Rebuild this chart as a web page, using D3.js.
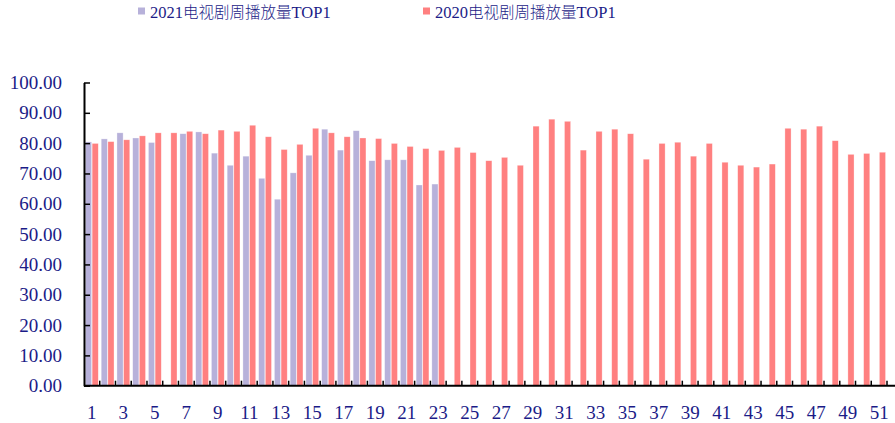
<!DOCTYPE html>
<html>
<head>
<meta charset="utf-8">
<script src="https://cdn.jsdelivr.net/npm/d3@7"></script>
<style>
  body { margin: 0; background: #fff; }
  svg { display: block; }
  .tick text { fill: #1b1b87; font-family: "Liberation Serif", "DejaVu Serif", serif; font-size: 19px; }
  .legend text { fill: #1b1b87; font-size: 16.5px; }
</style>
</head>
<body>
<svg id="chart" width="895" height="423"></svg>
<script>
'use strict';

var weeks = d3.range(1, 52);
var seriesNames = ["2021电视剧周播放量TOP1", "2020电视剧周播放量TOP1"];
var seriesColors = ["#b7b1da", "#ff8080"];

// 2021: weeks 1-23, week 6 has no value
var values2021 = [80.4, 81.4, 83.4, 81.7, 80.2, null, 83.1, 83.7, 76.7, 72.7,
  75.7, 68.4, 61.5, 70.2, 76.0, 84.6, 77.7, 84.1, 74.2, 74.5,
  74.5, 66.2, 66.5];
var values2020 = [79.9, 80.5, 81.1, 82.4, 83.4, 83.4, 83.9, 83.1, 84.3, 83.9,
  85.9, 82.1, 77.9, 79.6, 84.9, 83.4, 82.1, 81.7, 81.5, 79.9,
  78.9, 78.2, 77.6, 78.6, 76.9, 74.2, 75.3, 72.7, 85.6, 87.9,
  87.2, 77.7, 83.9, 84.6, 83.1, 74.7, 79.9, 80.3, 75.7, 79.9,
  73.7, 72.7, 72.1, 73.1, 84.9, 84.6, 85.6, 80.8, 76.3, 76.6,
  77.0];
var yTicks = d3.range(0, 101, 10);

var svg = d3.select("#chart");
var plotLeft = 84, plotRight = 887, plotTop = 82.5, plotBottom = 385.7;

var x = d3.scaleBand().domain(weeks).range([plotLeft, plotRight]);
var x1 = d3.scaleBand().domain([0, 1]).range([0, x.bandwidth()])
  .paddingInner(0.08).paddingOuter(0.22);
var y = d3.scaleLinear().domain([0, 100]).range([plotBottom, plotTop]);

// bars
var series = [values2021, values2020];
series.forEach(function(vals, si) {
  var data = weeks.map(function(w, i) {
    return { week: w, value: vals[i] };
  }).filter(function(d) { return d.value != null; });

  svg.append("g")
    .selectAll("rect")
    .data(data)
    .join("rect")
    .attr("x", function(d) { return x(d.week) + x1(si); })
    .attr("y", function(d) { return y(d.value); })
    .attr("width", x1.bandwidth())
    .attr("height", function(d) { return plotBottom - y(d.value); })
    .attr("fill", seriesColors[si])
    .attr("stroke", "#fff")
    .attr("stroke-opacity", 0.5)
    .attr("stroke-width", 0.6);
});

// y axis
var yAxis = svg.append("g")
  .attr("transform", "translate(" + plotLeft + ",0)")
  .call(d3.axisLeft(y).tickValues(yTicks).tickFormat(d3.format(".2f")).tickSizeInner(-6).tickSizeOuter(0).tickPadding(22));
yAxis.select(".domain").attr("stroke", "#000").attr("stroke-width", 2);
yAxis.selectAll(".tick line").attr("stroke", "#000").attr("stroke-width", 1.5);

// x axis: ticks at band edges, labels on odd weeks
var xg = svg.append("g").attr("transform", "translate(0," + plotBottom + ")");
xg.append("line")
  .attr("x1", plotLeft).attr("x2", 895)
  .attr("stroke", "#000").attr("stroke-width", 2);
xg.selectAll("line.edge")
  .data(weeks)
  .join("line")
  .attr("class", "edge")
  .attr("x1", function(w) { return x(w) + x.bandwidth(); })
  .attr("x2", function(w) { return x(w) + x.bandwidth(); })
  .attr("y1", 0).attr("y2", -5)
  .attr("stroke", "#000").attr("stroke-width", 1.5);
xg.selectAll("text")
  .data(weeks.filter(function(w) { return w % 2 === 1; }))
  .join("text")
  .attr("x", function(w) { return x(w) + x.bandwidth() / 2; })
  .attr("y", 33)
  .attr("text-anchor", "middle")
  .attr("fill", "#1b1b87")
  .style("font-family", "'Liberation Serif', serif")
  .style("font-size", "19px")
  .text(function(w) { return w; });

// legend
var legendX = [138, 423];
var legend = svg.append("g").attr("class", "legend");
seriesNames.forEach(function(name, i) {
  legend.append("rect")
    .attr("x", legendX[i]).attr("y", 7.5)
    .attr("width", 7).attr("height", 7)
    .attr("fill", seriesColors[i]);
  var m = name.match(/^(\d+)(.*?)(TOP1)$/);
  var t = legend.append("text")
    .attr("x", legendX[i] + 12).attr("y", 17.5);
  t.append("tspan").style("font-family", "'Liberation Serif', serif").text(m[1]);
  t.append("tspan").style("font-family", "'Noto Sans CJK SC', sans-serif").style("font-weight", 300).style("font-size", "15.5px").text(m[2]);
  t.append("tspan").style("font-family", "'Liberation Serif', serif").text(m[3]);
});
</script>
</body>
</html>
